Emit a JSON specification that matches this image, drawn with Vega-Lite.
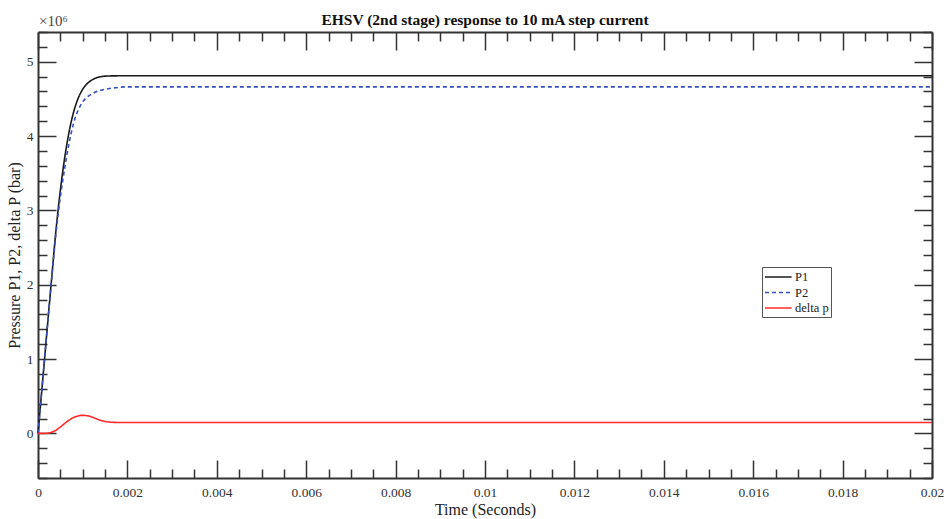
{
  "$schema": "https://vega.github.io/schema/vega-lite/v6.json",
  "width": 894,
  "height": 446,
  "autosize": "none",
  "padding": {"left": 38, "top": 32, "right": 14, "bottom": 41},
  "background": "white",
  "config": {
    "font": "Liberation Serif",
    "view": {"stroke": null},
    "axis": {
      "domainColor": "#333",
      "domainWidth": 2,
      "tickColor": "#333",
      "tickWidth": 1.5,
      "labelFont": "Liberation Serif",
      "labelColor": "#333",
      "labelFontSize": 13.5,
      "titleFont": "Liberation Serif",
      "titleFontWeight": "normal",
      "titleColor": "#222",
      "titleFontSize": 16,
      "grid": false
    }
  },
  "title": {
    "text": "EHSV (2nd stage) response to 10 mA step current",
    "font": "Liberation Serif",
    "fontSize": 15.5,
    "fontWeight": "bold",
    "color": "#111",
    "anchor": "middle",
    "offset": 6,
    "dy": 20
  },
  "data": {
    "values": [
      {"t": 0, "v": 0, "s": "P1"},
      {"t": 0.0001, "v": 680000, "s": "P1"},
      {"t": 0.0002, "v": 1370000, "s": "P1"},
      {"t": 0.0003, "v": 2050000, "s": "P1"},
      {"t": 0.0004, "v": 2720000, "s": "P1"},
      {"t": 0.0005, "v": 3270000, "s": "P1"},
      {"t": 0.0006, "v": 3720000, "s": "P1"},
      {"t": 0.0007, "v": 4070000, "s": "P1"},
      {"t": 0.0008, "v": 4330000, "s": "P1"},
      {"t": 0.0009, "v": 4510000, "s": "P1"},
      {"t": 0.001, "v": 4630000, "s": "P1"},
      {"t": 0.0011, "v": 4705000, "s": "P1"},
      {"t": 0.0012, "v": 4752000, "s": "P1"},
      {"t": 0.0013, "v": 4782000, "s": "P1"},
      {"t": 0.0014, "v": 4798000, "s": "P1"},
      {"t": 0.0015, "v": 4806000, "s": "P1"},
      {"t": 0.0017, "v": 4810000, "s": "P1"},
      {"t": 0.002, "v": 4811000, "s": "P1"},
      {"t": 0.02, "v": 4811000, "s": "P1"},
      {"t": 0, "v": 0, "s": "P2"},
      {"t": 0.0001, "v": 680000, "s": "P2"},
      {"t": 0.0002, "v": 1370000, "s": "P2"},
      {"t": 0.0003, "v": 2040000, "s": "P2"},
      {"t": 0.0004, "v": 2680000, "s": "P2"},
      {"t": 0.0005, "v": 3180000, "s": "P2"},
      {"t": 0.0006, "v": 3580000, "s": "P2"},
      {"t": 0.0007, "v": 3920000, "s": "P2"},
      {"t": 0.0008, "v": 4180000, "s": "P2"},
      {"t": 0.0009, "v": 4350000, "s": "P2"},
      {"t": 0.001, "v": 4460000, "s": "P2"},
      {"t": 0.0011, "v": 4525000, "s": "P2"},
      {"t": 0.0012, "v": 4565000, "s": "P2"},
      {"t": 0.0013, "v": 4595000, "s": "P2"},
      {"t": 0.0014, "v": 4615000, "s": "P2"},
      {"t": 0.0016, "v": 4640000, "s": "P2"},
      {"t": 0.0018, "v": 4655000, "s": "P2"},
      {"t": 0.002, "v": 4662000, "s": "P2"},
      {"t": 0.02, "v": 4662000, "s": "P2"},
      {"t": 0, "v": 0, "s": "delta p"},
      {"t": 0.0001, "v": 0, "s": "delta p"},
      {"t": 0.0002, "v": 3000, "s": "delta p"},
      {"t": 0.0003, "v": 14000, "s": "delta p"},
      {"t": 0.0004, "v": 42000, "s": "delta p"},
      {"t": 0.0005, "v": 86000, "s": "delta p"},
      {"t": 0.0006, "v": 135000, "s": "delta p"},
      {"t": 0.0007, "v": 180000, "s": "delta p"},
      {"t": 0.0008, "v": 215000, "s": "delta p"},
      {"t": 0.0009, "v": 236000, "s": "delta p"},
      {"t": 0.001, "v": 243000, "s": "delta p"},
      {"t": 0.0011, "v": 238000, "s": "delta p"},
      {"t": 0.0012, "v": 222000, "s": "delta p"},
      {"t": 0.0013, "v": 198000, "s": "delta p"},
      {"t": 0.0014, "v": 176000, "s": "delta p"},
      {"t": 0.0015, "v": 161000, "s": "delta p"},
      {"t": 0.0016, "v": 152000, "s": "delta p"},
      {"t": 0.0018, "v": 147000, "s": "delta p"},
      {"t": 0.002, "v": 146000, "s": "delta p"},
      {"t": 0.02, "v": 146000, "s": "delta p"}
    ]
  },
  "layer": [
    {
      "mark": {"type": "line", "strokeWidth": 1.6, "interpolate": "monotone"},
      "encoding": {
        "x": {
          "field": "t",
          "type": "quantitative",
          "scale": {"domain": [0, 0.02], "nice": false, "zero": false},
          "axis": {
            "orient": "bottom",
            "title": "Time (Seconds)",
            "titlePadding": 3,
            "values": [0, 0.0005, 0.001, 0.0015, 0.002, 0.0025, 0.003, 0.0035, 0.004, 0.0045, 0.005, 0.0055, 0.006, 0.0065, 0.007, 0.0075, 0.008, 0.0085, 0.009, 0.0095, 0.01, 0.0105, 0.011, 0.0115, 0.012, 0.0125, 0.013, 0.0135, 0.014, 0.0145, 0.015, 0.0155, 0.016, 0.0165, 0.017, 0.0175, 0.018, 0.0185, 0.019, 0.0195, 0.02],
            "tickSize": -18,
            "labelPadding": 25,
            "labelFlush": false,
            "labelOverlap": false,
            "labelBound": false,
            "labelExpr": "abs(datum.value/0.002 - round(datum.value/0.002)) < 1e-6 ? format(datum.value, '~g') : ''",
            "tickDash": {"condition": {"test": "abs(datum.value/0.002 - round(datum.value/0.002)) < 1e-6", "value": [30, 1]}, "value": [9, 40]}
          }
        },
        "y": {
          "field": "v",
          "type": "quantitative",
          "scale": {"domain": [-600000, 5400000], "nice": false, "zero": false},
          "axis": {
            "orient": "left",
            "title": "Pressure P1, P2, delta P (bar)",
            "titlePadding": 4,
            "values": [-600000, -400000, -200000, 0, 200000, 400000, 600000, 800000, 1000000, 1200000, 1400000, 1600000, 1800000, 2000000, 2200000, 2400000, 2600000, 2800000, 3000000, 3200000, 3400000, 3600000, 3800000, 4000000, 4200000, 4400000, 4600000, 4800000, 5000000, 5200000, 5400000],
            "tickSize": -18,
            "labelPadding": 23,
            "labelFlush": false,
            "labelOverlap": false,
            "labelBound": false,
            "labelExpr": "abs(datum.value/1000000 - round(datum.value/1000000)) < 1e-6 ? format(datum.value/1000000, '~g') : ''",
            "tickDash": {"condition": {"test": "abs(datum.value/1000000 - round(datum.value/1000000)) < 1e-6", "value": [30, 1]}, "value": [9, 40]}
          }
        },
        "color": {
          "field": "s",
          "type": "nominal",
          "scale": {"domain": ["P1", "P2", "delta p"], "range": ["#1a1a1a", "#3550c0", "#ff2a2a"]},
          "legend": {
            "title": null,
            "orient": "none",
            "legendX": 724,
            "legendY": 235,
            "strokeColor": "#555",
            "padding": 2,
            "symbolType": "M-1,0H2.8",
            "symbolSize": 196,
            "symbolStrokeWidth": 1.6,
            "labelFont": "Liberation Serif",
            "labelFontSize": 12.5,
            "labelColor": "#222",
            "rowPadding": 0.5,
            "labelOffset": 15
          }
        },
        "strokeDash": {
          "field": "s",
          "type": "nominal",
          "scale": {"domain": ["P1", "P2", "delta p"], "range": [[1, 0], [4, 3], [1, 0]]},
          "legend": {
            "title": null,
            "orient": "none",
            "legendX": 724,
            "legendY": 235,
            "strokeColor": "#555",
            "padding": 2,
            "symbolType": "M-1,0H2.8",
            "symbolSize": 196,
            "symbolStrokeWidth": 1.6,
            "labelFont": "Liberation Serif",
            "labelFontSize": 12.5,
            "labelColor": "#222",
            "rowPadding": 0.5,
            "labelOffset": 15
          }
        }
      }
    },
    {
      "mark": {"type": "point", "opacity": 0},
      "encoding": {
        "x": {
          "field": "t",
          "type": "quantitative",
          "axis": {
            "orient": "top",
            "title": null,
            "labels": false,
            "values": [0, 0.0005, 0.001, 0.0015, 0.002, 0.0025, 0.003, 0.0035, 0.004, 0.0045, 0.005, 0.0055, 0.006, 0.0065, 0.007, 0.0075, 0.008, 0.0085, 0.009, 0.0095, 0.01, 0.0105, 0.011, 0.0115, 0.012, 0.0125, 0.013, 0.0135, 0.014, 0.0145, 0.015, 0.0155, 0.016, 0.0165, 0.017, 0.0175, 0.018, 0.0185, 0.019, 0.0195, 0.02],
            "tickSize": -18,
            "tickDash": {"condition": {"test": "abs(datum.value/0.002 - round(datum.value/0.002)) < 1e-6", "value": [30, 1]}, "value": [9, 40]}
          }
        },
        "y": {
          "field": "v",
          "type": "quantitative",
          "axis": {
            "orient": "right",
            "title": null,
            "labels": false,
            "values": [-600000, -400000, -200000, 0, 200000, 400000, 600000, 800000, 1000000, 1200000, 1400000, 1600000, 1800000, 2000000, 2200000, 2400000, 2600000, 2800000, 3000000, 3200000, 3400000, 3600000, 3800000, 4000000, 4200000, 4400000, 4600000, 4800000, 5000000, 5200000, 5400000],
            "tickSize": -18,
            "tickDash": {"condition": {"test": "abs(datum.value/1000000 - round(datum.value/1000000)) < 1e-6", "value": [30, 1]}, "value": [9, 40]}
          }
        }
      }
    },
    {
      "data": {"values": [{"label": "×10⁶"}]},
      "mark": {"type": "text", "align": "left", "baseline": "bottom", "dy": -3, "dx": 1, "font": "Liberation Serif", "fontSize": 15, "color": "#444"},
      "encoding": {
        "x": {"datum": 0, "type": "quantitative", "axis": null},
        "y": {"datum": 5400000, "type": "quantitative", "axis": null},
        "text": {"field": "label"}
      }
    }
  ],
  "resolve": {"axis": {"x": "independent", "y": "independent"}}
}
